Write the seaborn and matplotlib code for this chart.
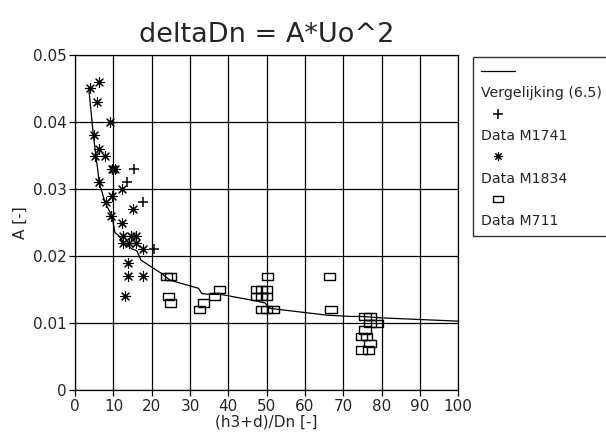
import numpy as np
import pandas as pd
import seaborn as sns
import matplotlib.pyplot as plt
from matplotlib.lines import Line2D

# Vergelijking (6.5)
curve_x = [3.5, 4.8, 6.3, 7.8, 9.6, 10.4, 11.3, 12.6, 14.8, 16.1, 17.2, 19.6, 22.6,
           24.8, 32.2, 33.1, 35.2, 37.9, 47.4, 49.6, 50.9, 55.3, 65.7, 71.8, 74.9,
           79.6, 100.0]
curve_y = [0.0453, 0.0378, 0.0310, 0.0280, 0.0260, 0.0235, 0.0231, 0.0221, 0.0211,
           0.0208, 0.0194, 0.0185, 0.0174, 0.0164, 0.0152, 0.0144, 0.0143, 0.0143,
           0.0133, 0.0130, 0.0122, 0.0119, 0.0112, 0.0110, 0.0110, 0.0108, 0.0103]

# Data M1741
m1741_x = [15.4, 13.5, 17.8, 20.5]
m1741_y = [0.033, 0.031, 0.028, 0.021]

# Data M1834
m1834_x = [3.9, 6.3, 5.7, 9.0, 5.0, 6.3, 5.2, 7.8, 9.6, 10.0, 10.5, 6.3, 12.2, 9.7,
           8.0, 15.2, 9.4, 12.2, 12.5, 14.5, 16.0, 12.5, 14.0, 16.0, 17.8, 13.9,
           13.9, 17.8, 13.0]
m1834_y = [0.045, 0.046, 0.043, 0.040, 0.038, 0.036, 0.035, 0.035, 0.033, 0.033,
           0.033, 0.031, 0.030, 0.029, 0.028, 0.027, 0.026, 0.025, 0.023, 0.023,
           0.023, 0.022, 0.022, 0.022, 0.021, 0.019, 0.017, 0.017, 0.014]

# Data M711
m711_x = [23.9, 25.0, 24.4, 24.8, 37.7, 36.4, 33.5, 32.5, 50.2, 47.4, 48.7, 50.0,
          47.4, 48.7, 50.0, 48.7, 50.0, 51.8, 66.4, 66.8, 75.7, 77.0, 77.0, 78.8,
          75.7, 74.8, 76.1, 77.0, 74.8, 76.6]
m711_y = [0.017, 0.017, 0.014, 0.013, 0.015, 0.014, 0.013, 0.012, 0.017, 0.015,
          0.015, 0.015, 0.014, 0.014, 0.014, 0.012, 0.012, 0.012, 0.017, 0.012,
          0.011, 0.011, 0.010, 0.010, 0.009, 0.008, 0.008, 0.007, 0.006, 0.006]

sns.set_style("white")
plt.rcParams["font.family"] = ["DejaVu Sans"]

fig = plt.figure(figsize=(6.06, 4.36), dpi=100)
ax = fig.add_axes([0.124, 0.105, 0.632, 0.769])

star = (8, 2, 0)
rect = [(-1.3, -0.85), (1.3, -0.85), (1.3, 0.85), (-1.3, 0.85), (-1.3, -0.85)]

sns.lineplot(x=curve_x, y=curve_y, ax=ax, color="black", lw=0.9, sort=False)
sns.scatterplot(x=m1741_x, y=m1741_y, ax=ax, marker="+", color="black", s=55,
                linewidth=1.1)
sns.scatterplot(x=m1834_x, y=m1834_y, ax=ax, marker=star, color="black", s=50,
                linewidth=0.8)
sns.scatterplot(x=m711_x, y=m711_y, ax=ax, marker=rect, facecolors="none",
                edgecolor="black", s=65, linewidth=1.0)

ax.set_xlim(0, 100)
ax.set_ylim(0, 0.05)
ax.set_xticks(np.arange(0, 101, 10))
ax.set_yticks([0, 0.01, 0.02, 0.03, 0.04, 0.05])
ax.set_yticklabels(["0", "0.01", "0.02", "0.03", "0.04", "0.05"])
ax.grid(True, color="black", lw=0.9)
for s in ax.spines.values():
    s.set_color("black")
    s.set_linewidth(0.9)
ax.tick_params(axis="both", which="both", direction="out", length=4, width=0.9,
               color="black", labelsize=11, pad=2, bottom=True, left=True)
ax.set_xlabel("(h3+d)/Dn [-]", fontsize=11, labelpad=1)
ax.set_ylabel("A [-]", fontsize=11, labelpad=4)
ax.set_title("deltaDn = A*Uo^2", fontsize=19.5, pad=9)

handles = [
    Line2D([], [], color="black", lw=0.9),
    Line2D([], [], color="none"),
    Line2D([], [], ls="none", marker="+", color="black", ms=7, mew=1.1),
    Line2D([], [], color="none"),
    Line2D([], [], ls="none", marker=star, color="black", ms=6, mew=0.8),
    Line2D([], [], color="none"),
    Line2D([], [], ls="none", marker=rect, mfc="none", mec="black", ms=7.5, mew=1.0),
    Line2D([], [], color="none"),
]
labels = ["", "Vergelijking (6.5)", "", "Data M1741", "", "Data M1834", "", "Data M711"]
leg = fig.legend(handles, labels, loc="upper left", bbox_to_anchor=(0.781, 0.869),
                 handlelength=2.4, handletextpad=-2.4, fontsize=10.2,
                 frameon=True, fancybox=False, borderpad=0.55, labelspacing=0.52,
                 borderaxespad=0)
leg.get_frame().set_edgecolor("black")
leg.get_frame().set_linewidth(1.0)

fig.savefig("out.png", dpi=100)
